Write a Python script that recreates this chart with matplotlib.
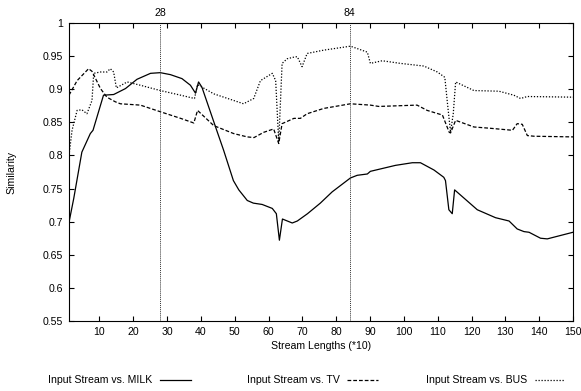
import numpy as np
import matplotlib
matplotlib.use("Agg")
from matplotlib import pyplot as plt
from matplotlib.lines import Line2D

plt.rcParams['font.family'] = ['Liberation Sans', 'DejaVu Sans']

# Input Stream vs. MILK
milk_x = [1, 2.4, 4.8, 7.3, 8.1, 11.2, 14.2, 17.7, 21.1, 25.1, 28, 31, 34.4, 36.9, 38.4, 39.3,
          40.3, 44.8, 46.7, 49.6, 51.2, 53.7, 55.5, 58.1, 61.1, 62.3, 63.2, 64.1, 67, 68.5,
          71.5, 75.3, 78.8, 84.2, 86.2, 89.2, 90.1, 97.5, 102.5, 104.9, 108.9, 111.8, 112.3,
          113.3, 114.3, 115, 121.7, 127.1, 131.1, 133.5, 135.5, 137, 140.4, 142.4, 150]
milk_y = [0.699, 0.735, 0.805, 0.833, 0.838, 0.891, 0.892, 0.901, 0.915, 0.924, 0.925, 0.922,
          0.916, 0.906, 0.894, 0.911, 0.903, 0.836, 0.808, 0.762, 0.748, 0.732, 0.728, 0.726,
          0.720, 0.712, 0.672, 0.704, 0.698, 0.701, 0.712, 0.728, 0.745, 0.766, 0.770, 0.772,
          0.776, 0.785, 0.789, 0.789, 0.778, 0.767, 0.762, 0.718, 0.712, 0.748, 0.718, 0.706,
          0.701, 0.689, 0.685, 0.684, 0.675, 0.674, 0.684]

# Input Stream vs. TV
tv_x = [1, 3.4, 6.8, 7.8, 10.3, 12.2, 14.7, 16.2, 22.1, 28, 34, 37.9, 39, 43.8, 49.7, 53.7,
        55.7, 58.6, 61.5, 63, 64, 67.5, 69.4, 71.4, 76.3, 84.2, 90.1, 92.6, 103.9, 106.9,
        111.4, 113.4, 113.8, 115.3, 120.7, 125.6, 132.1, 133.5, 135, 136.5, 138.5, 150]
tv_y = [0.891, 0.913, 0.931, 0.927, 0.901, 0.888, 0.881, 0.878, 0.876, 0.866, 0.856, 0.849,
        0.868, 0.845, 0.833, 0.828, 0.827, 0.835, 0.840, 0.818, 0.848, 0.856, 0.856, 0.863,
        0.871, 0.878, 0.876, 0.874, 0.876, 0.868, 0.861, 0.835, 0.834, 0.853, 0.843, 0.841,
        0.838, 0.848, 0.847, 0.830, 0.829, 0.828]

# Input Stream vs. BUS
bus_x = [1, 1.9, 3.4, 4.8, 6.3, 7.8, 8.3, 10.3, 12.2, 13.2, 14.2, 15, 18.2, 22.1, 28, 34,
         38.1, 39, 43.8, 49.7, 52.6, 55.6, 57.6, 61.1, 62.1, 63, 64, 65.5, 67.9, 68.5, 69.9,
         71.4, 76.3, 84.2, 89.2, 90.1, 93.6, 99, 105.9, 109.9, 112.1, 112.9, 113.8, 114.6,
         115.3, 120.7, 128.1, 132.5, 134.5, 136.5, 150]
bus_y = [0.800, 0.838, 0.868, 0.869, 0.863, 0.883, 0.924, 0.926, 0.926, 0.931, 0.926, 0.902,
         0.911, 0.906, 0.898, 0.891, 0.886, 0.907, 0.893, 0.883, 0.878, 0.886, 0.913, 0.924,
         0.913, 0.820, 0.939, 0.946, 0.949, 0.949, 0.934, 0.954, 0.959, 0.965, 0.956, 0.939,
         0.943, 0.939, 0.935, 0.926, 0.918, 0.878, 0.835, 0.863, 0.911, 0.898, 0.897, 0.891,
         0.886, 0.889, 0.888]

marks = [28, 84]
xticks = np.arange(10, 151, 10)
yticks = [0.55, 0.6, 0.65, 0.7, 0.75, 0.8, 0.85, 0.9, 0.95, 1]
ylabels = ['0.55', '0.6', '0.65', '0.7', '0.75', '0.8', '0.85', '0.9', '0.95', '1']

fs = 7.6
fig = plt.figure(figsize=(5.81, 3.91), dpi=100)
ax = fig.add_axes([69 / 581, 1 - 321 / 391, 504 / 581, 298 / 391])

solid_style = dict(color='black', lw=0.9, ls='-')
dash_style = dict(color='black', lw=0.9, ls=(0, (3, 1.6)))
dot_style = dict(color='black', lw=0.9, ls=(0, (1, 1.4)))

ax.plot(milk_x, milk_y, **solid_style)
ax.plot(tv_x, tv_y, **dash_style)
ax.plot(bus_x, bus_y, **dot_style)

# marked stream lengths, labelled above the top axis
for m in marks:
    ax.axvline(m, color='#333333', lw=0.7, ls=(0, (1, 1)))
    ax.text(m, 1.007, str(m), ha='center', va='bottom', fontsize=fs)

ax.set_xlim(1, 150)
ax.set_ylim(0.55, 1)
ax.set_xticks(xticks)
ax.set_yticks(yticks)
ax.set_yticklabels(ylabels)
ax.tick_params(direction='in', length=3.5, width=0.8, labelsize=fs,
               top=True, right=True, pad=4)
for s in ax.spines.values():
    s.set_linewidth(0.8)

ax.set_xlabel('Stream Lengths (*10)', fontsize=fs, labelpad=3)
ax.set_ylabel('Similarity', fontsize=fs, labelpad=19)

# legend row along the bottom: text then line sample
leg_y = 1 - 380 / 391
entries = [('Input Stream vs. MILK', 152, 160, 191, solid_style),
           ('Input Stream vs. TV', 340, 347, 378, dash_style),
           ('Input Stream vs. BUS', 527, 535, 564, dot_style)]
for label, tx, x0, x1, st in entries:
    fig.text(tx / 581, leg_y, label, ha='right', va='center', fontsize=fs)
    fig.add_artist(Line2D([x0 / 581, x1 / 581], [leg_y, leg_y], transform=fig.transFigure, **st))

plt.savefig('out.png', dpi=100)
